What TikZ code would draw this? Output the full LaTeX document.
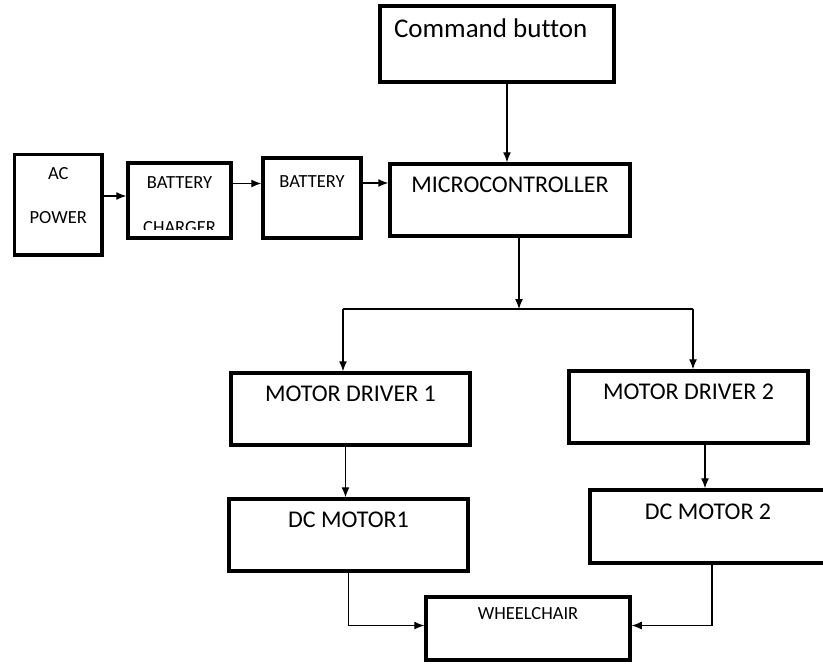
\documentclass[tikz,border=0pt]{standalone}
\usepackage{fontspec}
\setmainfont{Carlito}[Ligatures=NoCommon]
\usetikzlibrary{arrows.meta,calc}

\begin{document}
\begin{tikzpicture}[x=1pt,y=-1pt,
    blk/.style={draw,line width=3.5pt,inner sep=0pt,align=center},
    con/.style={line width=1.2pt,-{Latex[length=10pt,width=8pt]}},
    big/.style={font=\fontsize{24}{29}\selectfont},
    small/.style={font=\fontsize{18.5}{44}\selectfont}]
    \useasboundingbox (0,0) rectangle (823,665);
    \clip (0,0) rectangle (823,665);

    % top row
    \node[blk,font=\fontsize{27}{32}\selectfont,text width=206pt,inner xsep=14pt,align=flush left,text height=31pt,text depth=45pt] (cmd) at (497,44) {Command button};
    \node[blk,small,minimum width=87.5pt,text height=68.5pt,text depth=32pt] (ac) at (58.25,204.75) {AC\\POWER};
    \node[blk,small,font=\fontsize{18.5}{45.7}\selectfont,minimum width=103pt,text height=70.7pt,text depth=4.3pt] (chg) at (179.5,200.5) {BATTERY\\CHARGER};
    \node[blk,small,minimum width=98pt,text height=29pt,text depth=51pt] (bat) at (312,198) {BATTERY};
    \node[blk,big,minimum width=240pt,text height=28pt,text depth=44pt] (micro) at (510,200) {MICROCONTROLLER};
    \fill[white] (130,229.5) rectangle (229,236);

    % drivers and motors
    \node[blk,big,minimum width=239pt,text height=28pt,text depth=44pt] (md1) at (350.5,409) {MOTOR DRIVER 1};
    \node[blk,big,minimum width=239pt,text height=28pt,text depth=44pt] (md2) at (688.5,407) {MOTOR DRIVER 2};
    \node[blk,big,minimum width=239pt,text height=28pt,text depth=44pt] (dc1) at (348.5,535) {DC MOTOR1};
    \node[blk,big,minimum width=236pt,text height=29pt,text depth=44pt] (dc2) at (708,526.5) {DC MOTOR 2};
    \node[blk,small,minimum width=204pt,text height=22pt,text depth=41pt] (wc) at (528,628.5) {WHEELCHAIR};

    \coordinate (split) at (519,309);
    \coordinate (j1) at (343,309);
    \coordinate (j2) at (693,309);

    % connectors
    \draw[con] ([xshift=-3pt]micro.north |- cmd.south) -- ([xshift=-3pt]micro.north);
    \draw[con] ([yshift=4.5pt]chg.west -| ac.east) -- ([yshift=4.5pt]chg.west);
    \draw[con] ([yshift=17pt]chg.east) -- ([yshift=17pt]chg.east -| bat.west);
    \draw[con] ([yshift=15pt]bat.east) -- ([yshift=15pt]bat.east -| micro.west);
    \draw[con] (split |- micro.south) -- (split);
    \draw[line width=1.2pt] (j1) -- (j2);
    \draw[con] (j1) -- (j1 |- md1.north);
    \draw[con] (j2) -- (j2 |- md2.north);
    \draw[con] ([xshift=-3pt]dc1.north |- md1.south) -- ([xshift=-3pt]dc1.north);
    \draw[con] ([xshift=-3pt]dc2.north |- md2.south) -- ([xshift=-3pt]dc2.north);
    \draw[con] (dc1.south) |- ([yshift=3pt]wc.west);
    \draw[con] ([xshift=4pt]dc2.south) |- ([yshift=3pt]wc.east);
\end{tikzpicture}
\end{document}
